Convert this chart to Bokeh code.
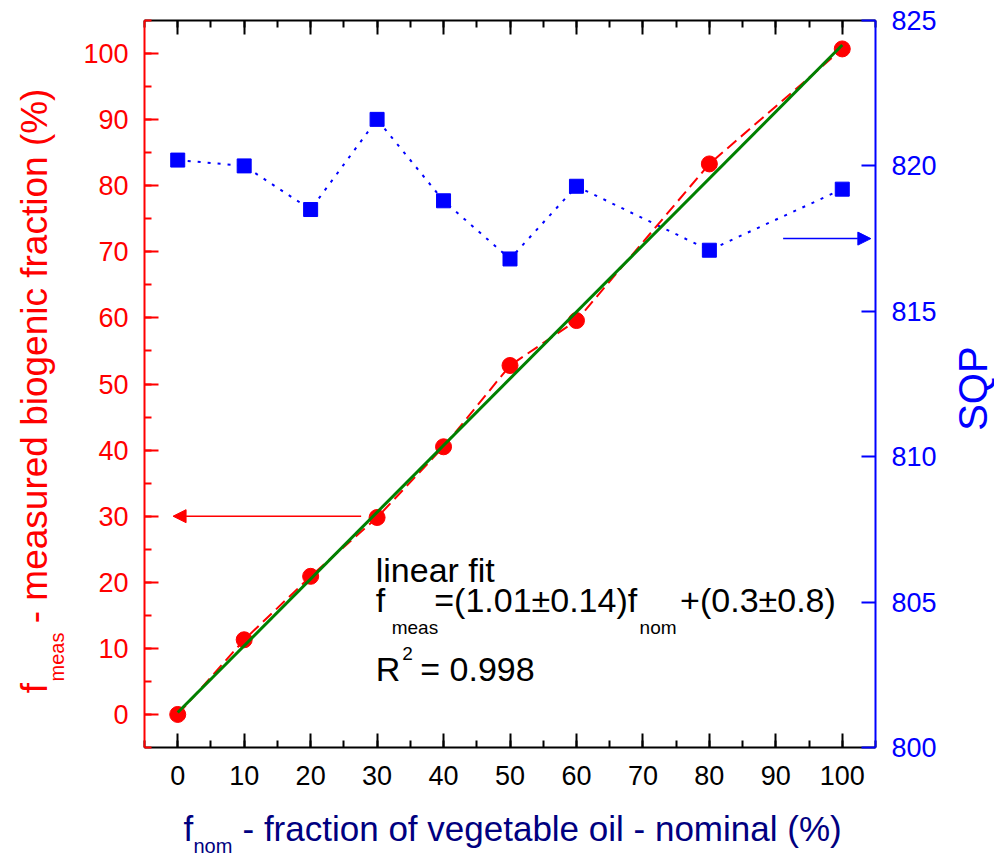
import math
from bokeh.plotting import figure
from bokeh.layouts import row, column
from bokeh.models import (Range1d, LinearAxis, SingleIntervalTicker, Label, Arrow, NormalHead)
from bokeh.embed import file_html
from bokeh.resources import INLINE

# ---------------- data ----------------
f_nom = [0, 10, 20, 30, 40, 50, 60, 80, 100]
f_meas = [0.0, 11.3, 20.9, 29.8, 40.5, 52.8, 59.6, 83.3, 100.7]
sqp = [820.2, 820.0, 818.5, 821.6, 818.8, 816.8, 819.3, 817.1, 819.2]

fit_slope = 1.01
fit_intercept = 0.3
fit_x = [0, 100]
fit_y = [fit_slope * v + fit_intercept for v in fit_x]

x_ticks_interval = 10
left_ticks_interval = 10
right_ticks_interval = 5

FONT = "Liberation Sans"
RED = "#FF0000"
BLUE = "#0000FF"
NAVY = "#000080"
GREEN = "#008000"

LEFT_W, RIGHT_W, BOTTOM_H = 70, 49, 55
MAIN_W, MAIN_H = 994 - LEFT_W - RIGHT_W, 855 - BOTTOM_H

x_rng = Range1d(-5, 105)
y_rng = Range1d(-5, 105)


def blank_fig(w, h, y_range=None):
    f = figure(width=w, height=h, output_backend="svg", toolbar_location=None, title=None,
               x_range=Range1d(0, w), y_range=y_range if y_range is not None else Range1d(0, h),
               min_border=0, x_axis_location=None, y_axis_location=None)
    f.outline_line_color = None
    f.xgrid.visible = False
    f.ygrid.visible = False
    f.background_fill_color = "white"
    f.border_fill_color = "white"
    return f


p = figure(width=MAIN_W, height=MAIN_H, output_backend="svg", toolbar_location=None, title=None,
           x_range=x_rng, y_range=y_rng,
           min_border_left=144 - LEFT_W, min_border_right=MAIN_W + LEFT_W - 875,
           min_border_top=20, min_border_bottom=MAIN_H - 747,
           x_axis_location=None, y_axis_location=None)
p.outline_line_color = None
p.xgrid.visible = False
p.ygrid.visible = False
p.background_fill_color = "white"
p.border_fill_color = "white"
p.extra_y_ranges = {"sqp": Range1d(800, 825)}


def style_axis(ax, color, minor=True, labels=True, standoff=16):
    ax.axis_line_color = color
    ax.axis_line_width = 2
    ax.major_tick_line_color = color
    ax.major_tick_line_width = 2
    ax.major_tick_in = 14
    ax.major_tick_out = 0
    if minor:
        ax.minor_tick_line_color = color
        ax.minor_tick_line_width = 2
        ax.minor_tick_in = 7
        ax.minor_tick_out = 0
    else:
        ax.minor_tick_line_color = None
    ax.major_label_text_font = FONT
    if labels:
        ax.major_label_text_font_size = "27px"
        ax.major_label_text_color = color
        ax.major_label_standoff = standoff
    else:
        ax.major_label_text_font_size = "1px"
        ax.major_label_text_color = None
        ax.major_label_text_alpha = 0
        ax.major_label_standoff = 0
    ax.axis_label = None


bottom = LinearAxis(ticker=SingleIntervalTicker(interval=x_ticks_interval, num_minor_ticks=2))
style_axis(bottom, "black", standoff=18)
p.add_layout(bottom, "below")

top = LinearAxis(ticker=SingleIntervalTicker(interval=x_ticks_interval, num_minor_ticks=2))
style_axis(top, "black", labels=False)
p.add_layout(top, "above")

left = LinearAxis(ticker=SingleIntervalTicker(interval=left_ticks_interval, num_minor_ticks=2))
style_axis(left, RED, standoff=16)
p.add_layout(left, "left")

right = LinearAxis(y_range_name="sqp", ticker=SingleIntervalTicker(interval=right_ticks_interval, num_minor_ticks=0))
style_axis(right, BLUE, minor=False, standoff=16)
p.add_layout(right, "right")

# ---------------- glyphs ----------------
p.line(f_nom, sqp, y_range_name="sqp", line_color=BLUE, line_width=2, line_dash="3 7")
p.scatter(f_nom, sqp, y_range_name="sqp", marker="square", size=14, fill_color=BLUE, line_color=BLUE)

p.line(f_nom, f_meas, line_color=RED, line_width=2, line_dash="12 6")
p.scatter(f_nom, f_meas, marker="circle", size=16, fill_color=RED, line_color=RED)

p.line(fit_x, fit_y, line_color=GREEN, line_width=3)

# ---------------- arrows ----------------
p.add_layout(Arrow(end=NormalHead(size=13, fill_color=RED, line_color=RED, line_width=1),
                   x_start=27.6, y_start=30, x_end=-0.7, y_end=30,
                   line_color=RED, line_width=1.5))
p.add_layout(Arrow(end=NormalHead(size=13, fill_color=BLUE, line_color=BLUE, line_width=1),
                   x_start=91.1, y_start=817.5, x_end=104.3, y_end=817.5, y_range_name="sqp",
                   line_color=BLUE, line_width=1.5))


def lab(fig, text, x, y, size, color="black", angle=0, align="left", baseline="alphabetic",
        y_range_name="default"):
    fig.add_layout(Label(x=x, y=y, text=text, text_font=FONT, text_font_size=f"{size}px",
                         text_color=color, angle=angle, text_align=align, text_baseline=baseline,
                         y_range_name=y_range_name))


# fit annotation (data units of the main plot)
lab(p, "linear fit", 29.8, 21.9, 34)
lab(p, "f", 29.8, 17.3, 34)
lab(p, "meas", 32.2, 13.1, 19)
lab(p, "=(1.01\u00b10.14)f", 38.6, 17.3, 34)
lab(p, "nom", 69.5, 13.1, 19)
lab(p, "+(0.3\u00b10.8)", 75.6, 17.3, 34)
lab(p, "R", 29.8, 6.9, 34)
lab(p, "2", 33.8, 9.2, 19)
lab(p, "= 0.998", 36.5, 6.9, 34)

# ---------------- axis titles in side strips ----------------
# left / right strips share the main plot's vertical scale
left_fig = blank_fig(LEFT_W, MAIN_H, y_range=y_rng)
lab(left_fig, "f", 34, 3.2, 37, RED, angle=math.pi / 2)
lab(left_fig, "meas", 56, 5.0, 20, RED, angle=math.pi / 2)
lab(left_fig, "- measured biogenic fraction (%)", 34, 13.8, 37, RED, angle=math.pi / 2)

right_fig = blank_fig(RIGHT_W, MAIN_H, y_range=y_rng)
lab(right_fig, "SQP", 972 - (LEFT_W + MAIN_W), 49.3, 40, BLUE, angle=math.pi / 2,
    align="center", baseline="middle")

bottom_fig = blank_fig(994, BOTTOM_H)
lab(bottom_fig, "f", 183, 27.5, 35, NAVY)
lab(bottom_fig, "nom", 193, 10, 20, NAVY)
lab(bottom_fig, "- fraction of vegetable oil - nominal (%)", 242, 27.5, 35, NAVY)

layout = column(row(left_fig, p, right_fig, spacing=0), bottom_fig, spacing=0)

open("out.html", "w").write(file_html(layout, INLINE))
